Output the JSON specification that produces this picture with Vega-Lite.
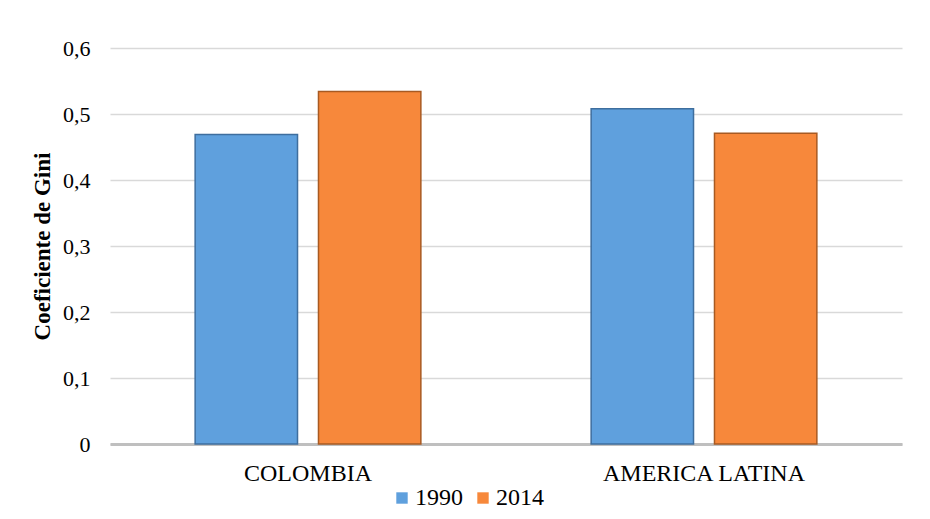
{
  "$schema": "https://vega.github.io/schema/vega-lite/v6.json",
  "width": 792,
  "height": 396,
  "autosize": {"type": "none"},
  "padding": {"left": 110, "top": 48, "right": 28, "bottom": 75},
  "background": "white",
  "config": {
    "font": "Liberation Serif",
    "view": {"stroke": null}
  },
  "data": {
    "values": [
      {"region": "COLOMBIA", "year": "1990", "gini": 0.469},
      {"region": "COLOMBIA", "year": "2014", "gini": 0.534},
      {"region": "AMERICA LATINA", "year": "1990", "gini": 0.508},
      {"region": "AMERICA LATINA", "year": "2014", "gini": 0.471}
    ]
  },
  "mark": {"type": "bar", "strokeWidth": 1.5},
  "encoding": {
    "x": {
      "field": "region",
      "type": "nominal",
      "sort": ["COLOMBIA", "AMERICA LATINA"],
      "scale": {"paddingInner": 0.43, "paddingOuter": 0.215},
      "axis": {
        "title": null,
        "labelAngle": 0,
        "labelFont": "Liberation Serif",
        "labelFontSize": 24,
        "labelLimit": 400,
        "labelColor": "#000000",
        "labelPadding": 17,
        "ticks": false,
        "domainColor": "#BFBFBF",
        "domainWidth": 3
      }
    },
    "xOffset": {
      "field": "year",
      "type": "nominal",
      "scale": {"paddingInner": 0.17, "paddingOuter": 0}
    },
    "y": {
      "field": "gini",
      "type": "quantitative",
      "scale": {"domain": [0, 0.6], "nice": false},
      "axis": {
        "title": "Coeficiente de Gini",
        "titleFont": "Liberation Serif",
        "titleFontSize": 23,
        "titleFontWeight": "bold",
        "titleColor": "#000000",
        "titlePadding": 8,
        "values": [0, 0.1, 0.2, 0.3, 0.4, 0.5, 0.6],
        "labelExpr": "replace(format(datum.value, '.1~f'), '.', ',')",
        "labelFont": "Liberation Serif",
        "labelFontSize": 22,
        "labelColor": "#000000",
        "labelPadding": 20,
        "ticks": false,
        "domain": false,
        "gridColor": "#D9D9D9",
        "gridWidth": 1.5
      }
    },
    "color": {
      "field": "year",
      "type": "nominal",
      "scale": {"domain": ["1990", "2014"], "range": ["#5FA0DD", "#F7883B"]},
      "legend": {
        "title": null,
        "orient": "none",
        "direction": "horizontal",
        "legendX": 280,
        "legendY": 438,
        "symbolType": "square",
        "symbolSize": 130,
        "symbolStrokeWidth": 0,
        "labelFont": "Liberation Serif",
        "labelFontSize": 24,
        "labelColor": "#000000",
        "labelOffset": 1,
        "columnPadding": 8
      }
    },
    "stroke": {
      "field": "year",
      "type": "nominal",
      "scale": {"domain": ["1990", "2014"], "range": ["#3E6E9E", "#A85A22"]},
      "legend": null
    }
  }
}
